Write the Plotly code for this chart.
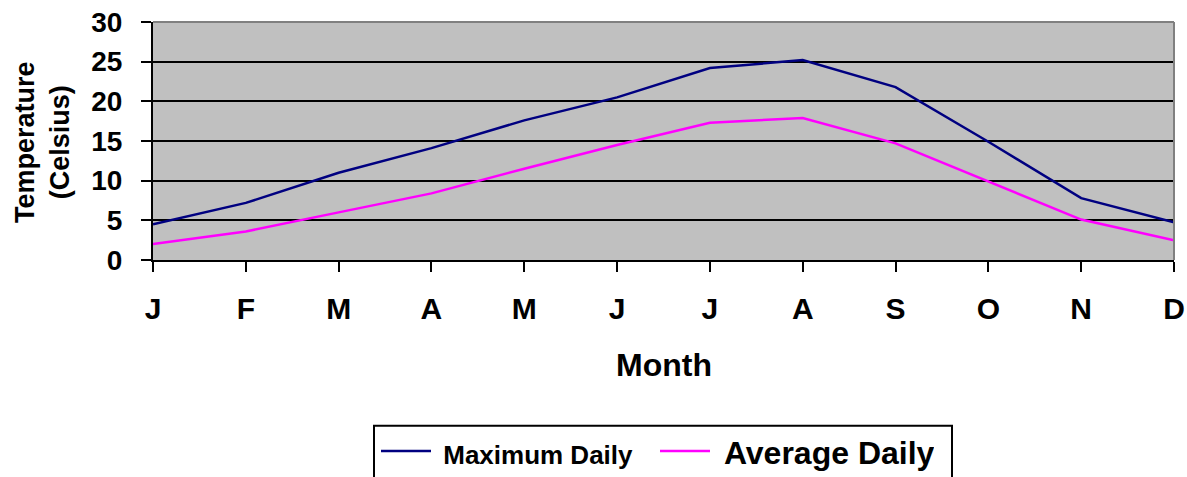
import plotly.graph_objects as go

months = ["J", "F", "M", "A", "M", "J", "J", "A", "S", "O", "N", "D"]
max_daily = [4.5, 7.2, 11.0, 14.1, 17.6, 20.5, 24.2, 25.2, 21.8, 14.9, 7.8, 4.75]
avg_daily = [2.0, 3.6, 6.0, 8.4, 11.5, 14.5, 17.3, 17.9, 14.7, 9.9, 5.1, 2.5]
y_ticks = [0, 5, 10, 15, 20, 25, 30]

FONT = "Liberation Sans, Arial, sans-serif"
W, H = 1187, 477
# plot area in page pixels
PX0, PX1, PY0, PY1 = 153, 1174, 21.5, 260.5
L = PX0
R = W - PX1
T = PY0
B = H - PY1
pw = PX1 - PX0
ph = PY1 - PY0

def px_x(p):
    return (p - PX0) / pw

def px_y(p):
    return (PY1 - p) / ph

xs = list(range(len(months)))

fig = go.Figure()
fig.add_trace(go.Scatter(x=xs, y=max_daily, mode="lines",
                         name="<span style='font-size:26px'>\u00a0Maximum Daily</span>",
                         line=dict(color="#000080", width=2.5)))
fig.add_trace(go.Scatter(x=xs, y=avg_daily, mode="lines",
                         name="\u00a0Average Daily",
                         line=dict(color="#FF00FF", width=2.5)))

fig.update_layout(
    width=W, height=H,
    margin=dict(l=L, r=R, t=T, b=B, pad=0, autoexpand=False),
    paper_bgcolor="white",
    plot_bgcolor="#C0C0C0",
    font=dict(family=FONT, color="black"),
    showlegend=True,
    legend=dict(
        orientation="h",
        x=px_x(376), y=px_y(425), xanchor="left", yanchor="top",
        xref="paper", yref="paper",
        font=dict(family=FONT, size=32, weight="bold", color="black"),
        bgcolor="rgba(0,0,0,0)", borderwidth=0,
        itemwidth=50, entrywidth=214,
    ),
)

fig.update_xaxes(
    range=[0, len(months) - 1],
    tickvals=xs, ticktext=months,
    tickfont=dict(family=FONT, size=30, weight="bold", color="black"),
    showline=True, linecolor="black", linewidth=2,
    ticks="outside", ticklen=10, tickwidth=2, tickcolor="black",
    ticklabelstandoff=11, ticklabeloverflow="allow",
    showgrid=False, zeroline=False, automargin=False,
)
fig.update_yaxes(
    range=[0, 30],
    tickvals=y_ticks,
    tickfont=dict(family=FONT, size=28, weight="bold", color="black"),
    showline=True, linecolor="black", linewidth=2,
    ticks="outside", ticklen=10, tickwidth=2, tickcolor="black",
    ticklabelstandoff=13, ticklabeloverflow="allow",
    showgrid=True, gridcolor="black", gridwidth=2,
    zeroline=False, automargin=False,
)

# plot frame top/right (gray)
fig.add_shape(type="line", xref="paper", yref="paper", x0=0, x1=1, y0=1, y1=1,
              line=dict(color="#808080", width=2), layer="above")
fig.add_shape(type="line", xref="paper", yref="paper", x0=1, x1=1, y0=0, y1=1,
              line=dict(color="#808080", width=2), layer="above")
# legend frame
fig.add_shape(type="rect", xref="paper", yref="paper",
              x0=px_x(374), x1=px_x(952), y0=px_y(495), y1=px_y(427),
              line=dict(color="black", width=2), fillcolor="rgba(0,0,0,0)", layer="above")

fig.add_annotation(text="<b>Month</b>", xref="paper", yref="paper",
                   x=px_x(664), y=px_y(366), showarrow=False,
                   xanchor="center", yanchor="middle",
                   font=dict(family=FONT, size=32, color="black"))
fig.add_annotation(text="<b>Temperature<br>(Celsius)</b>", xref="paper", yref="paper",
                   x=px_x(43), y=px_y(142), showarrow=False, textangle=-90,
                   xanchor="center", yanchor="middle",
                   font=dict(family=FONT, size=27, color="black"))

fig.write_html(
    "out.html",
    config={"displayModeBar": False},
    post_script="document.body.style.margin='0';document.body.style.overflow='hidden';",
)
